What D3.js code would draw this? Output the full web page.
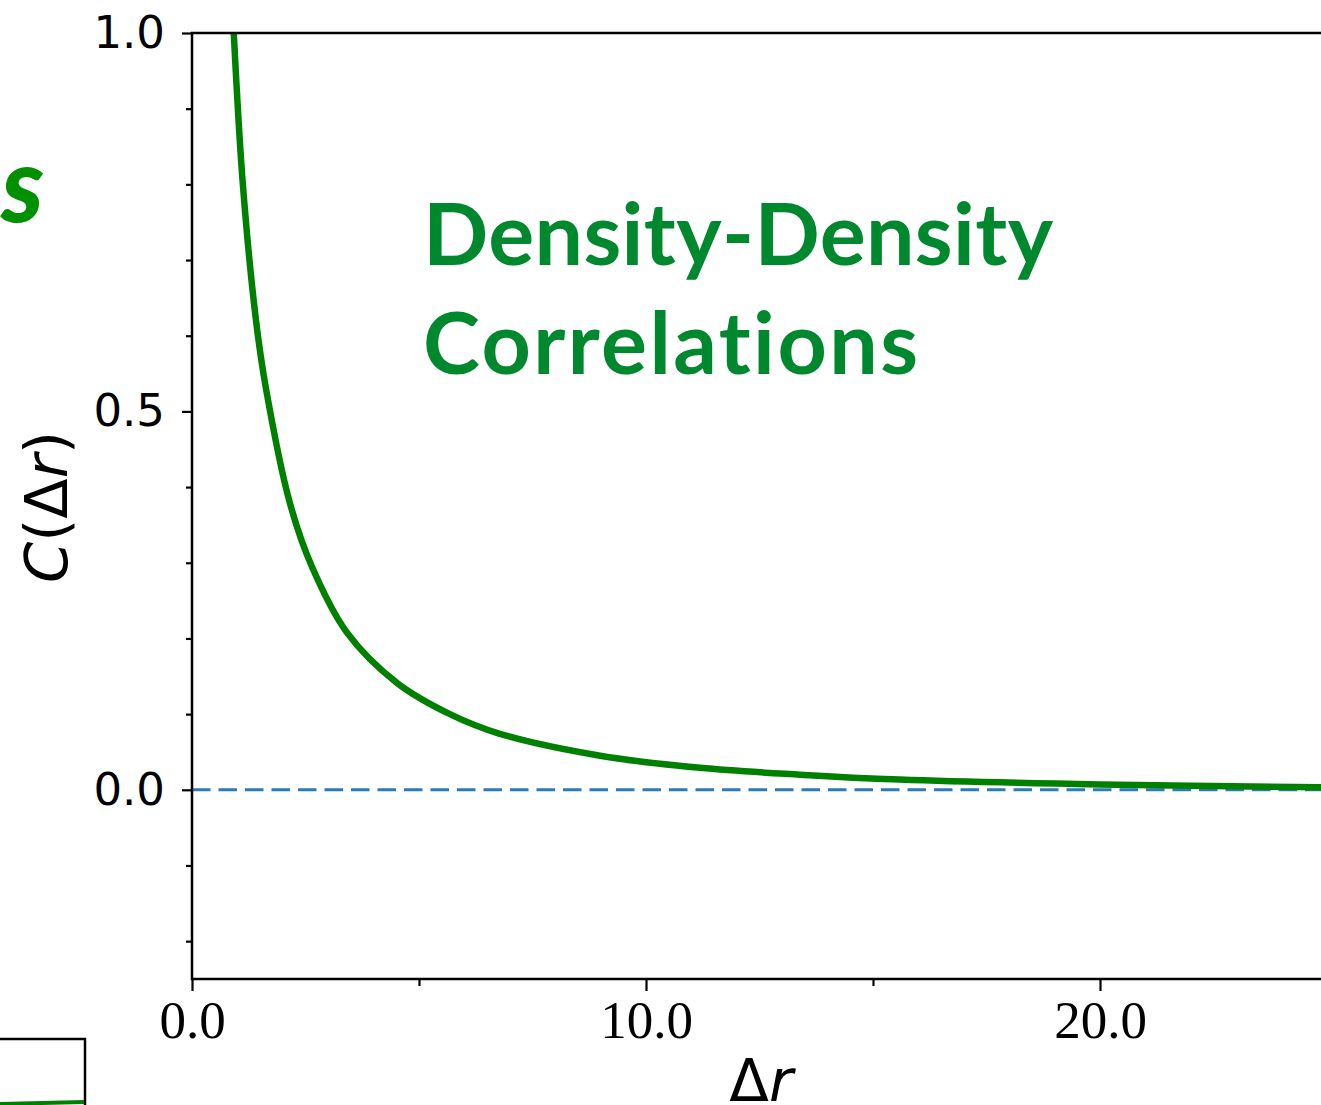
<!DOCTYPE html>
<html>
<head>
<meta charset="utf-8">
<script src="https://cdn.jsdelivr.net/npm/d3@7"></script>
<style>
  body { margin: 0; background: #fff; }
  svg { display: block; }
</style>
</head>
<body>
<svg id="chart"></svg>
<script>
// values
var deltaR = [0.92, 1.12, 1.41, 1.63, 2.16, 2.64, 3.41, 4.52, 5.68, 6.78, 8.99, 11.19, 13.39, 15.59, 20.0, 24.9];
var corr   = [1.00, 0.80, 0.62, 0.53, 0.378, 0.295, 0.208, 0.141, 0.100, 0.074, 0.045, 0.029, 0.020, 0.0135, 0.007, 0.0034];
var xMajor = [0, 10, 20];
var xMinor = [5, 15];
var yMajor = [0.0, 0.5, 1.0];
var yMinor = [-0.2, -0.1, 0.1, 0.2, 0.3, 0.4, 0.6, 0.7, 0.8, 0.9];
var titleLines = ["Density-Density", "Correlations"];

var screen = {width: 1321, height: 1105};
var plot = {left: 192, top: 33, right: 1327, bottom: 979};
var titleWidths = [630, 495]; // Gill Sans is wider than Lato, stretch to match

var svg = d3.select("#chart")
    .attr("width", screen.width)
    .attr("height", screen.height);

var x = d3.scaleLinear().domain([0, 25]).range([plot.left, plot.right]);
var y = d3.scaleLinear().domain([-0.25, 1.0]).range([plot.bottom, plot.top]);

// clip for the curve
svg.append("clipPath").attr("id", "plotclip")
  .append("rect")
    .attr("x", plot.left).attr("y", plot.top)
    .attr("width", plot.right - plot.left).attr("height", plot.bottom - plot.top);

// zero line
svg.append("line")
    .attr("x1", x(0)).attr("x2", x(25))
    .attr("y1", y(0)).attr("y2", y(0))
    .attr("stroke", "#2b7bba")
    .attr("stroke-width", 3)
    .attr("stroke-dasharray", "18.5,8");

// the curve
var pts = deltaR.map(function(d, i) { return [d, corr[i]]; });
var line = d3.line()
    .x(function(d) { return x(d[0]); })
    .y(function(d) { return y(d[1]); })
    .curve(d3.curveCatmullRom.alpha(0.5));

svg.append("path")
    .datum(pts)
    .attr("clip-path", "url(#plotclip)")
    .attr("d", line)
    .attr("fill", "none")
    .attr("stroke", "#008000")
    .attr("stroke-width", 6.5);

// axes
var yAxis = svg.append("g")
    .attr("transform", "translate(" + plot.left + ",0)")
    .call(d3.axisLeft(y).tickValues(yMajor).tickFormat(d3.format(".1f")).tickSize(10).tickPadding(17));
svg.append("g")
    .attr("transform", "translate(" + plot.left + ",0)")
    .call(d3.axisLeft(y).tickValues(yMinor).tickFormat("").tickSize(6));

var xAxis = svg.append("g")
    .attr("transform", "translate(0," + plot.bottom + ")")
    .call(d3.axisBottom(x).tickValues(xMajor).tickFormat(d3.format(".1f")).tickSize(12));
svg.append("g")
    .attr("transform", "translate(0," + plot.bottom + ")")
    .call(d3.axisBottom(x).tickValues(xMinor).tickFormat("").tickSize(7));

svg.selectAll(".domain").remove();
svg.selectAll(".tick line").attr("stroke", "#000").attr("stroke-width", 2.2);

yAxis.selectAll("text")
    .attr("font-family", "DejaVu Sans")
    .attr("font-size", 45)
    .attr("fill", "#000");

xAxis.selectAll("text")
    .attr("font-family", "Liberation Serif")
    .attr("font-size", 53)
    .attr("fill", "#000")
    .attr("y", 59)
    .attr("dy", 0);

// frame
svg.append("rect")
    .attr("x", plot.left).attr("y", plot.top)
    .attr("width", plot.right - plot.left).attr("height", plot.bottom - plot.top)
    .attr("fill", "none")
    .attr("stroke", "#000")
    .attr("stroke-width", 2.5);

// axis labels
var ylab = svg.append("text")
    .attr("transform", "translate(67,507) rotate(-90)")
    .attr("text-anchor", "middle")
    .attr("font-family", "DejaVu Sans")
    .attr("font-size", 59);
ylab.append("tspan").attr("font-style", "italic").text("C");
ylab.append("tspan").text("(Δ");
ylab.append("tspan").attr("font-style", "italic").text("r");
ylab.append("tspan").text(")");

var xlab = svg.append("text")
    .attr("x", 761).attr("y", 1101)
    .attr("text-anchor", "middle")
    .attr("font-family", "DejaVu Sans")
    .attr("font-size", 58);
xlab.append("tspan").text("Δ");
xlab.append("tspan").attr("font-style", "italic").text("r");

// title inside the plot
svg.append("g").selectAll("text")
    .data(titleLines)
    .enter()
    .append("text")
    .attr("x", 423)
    .attr("y", function(d, i) { return 265 + i * 109; })
    .attr("font-family", "Lato, 'Open Sans', sans-serif")
    .attr("font-weight", 700)
    .attr("font-size", 86)
    .attr("fill", "#00882e")
    .style("font-variant-ligatures", "none")
    .attr("textLength", function(d, i) { return titleWidths[i]; })
    .attr("lengthAdjust", "spacing")
    .text(function(d) { return d; });

// bits of the neighbouring panels that got cropped in
svg.append("text")
    .attr("x", 44).attr("y", 222)
    .attr("text-anchor", "end")
    .attr("font-family", "Lato, sans-serif")
    .attr("font-weight", 900)
    .attr("font-style", "italic")
    .attr("font-size", 104)
    .attr("fill", "#009000")
    .text("s");

svg.append("rect")
    .attr("x", -10).attr("y", 1039)
    .attr("width", 95).attr("height", 80)
    .attr("fill", "none")
    .attr("stroke", "#000")
    .attr("stroke-width", 2.5);
svg.append("line")
    .attr("x1", 0).attr("x2", 84)
    .attr("y1", 1104).attr("y2", 1102)
    .attr("stroke", "#008000")
    .attr("stroke-width", 4);
</script>
</body>
</html>
